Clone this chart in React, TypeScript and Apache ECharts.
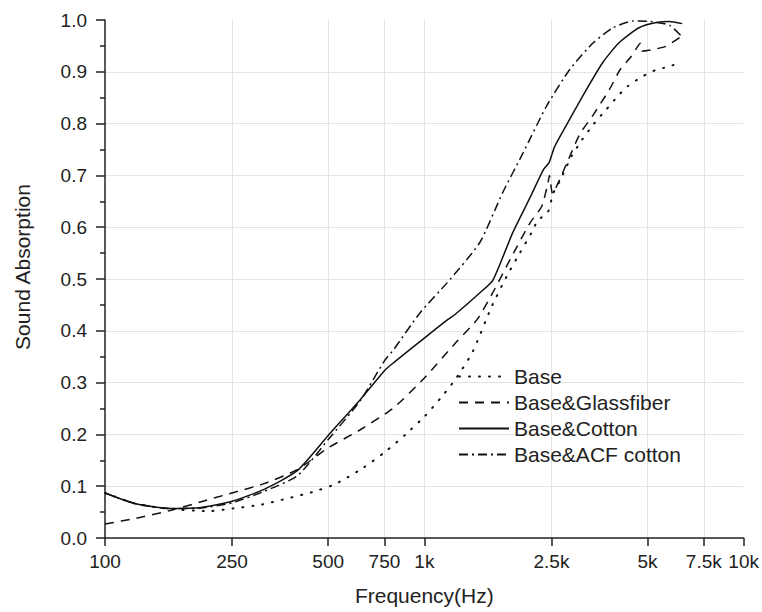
import React, { useEffect, useRef } from "react";
import * as echarts from "echarts";

// ---- data ----
const freqBase = [100, 125, 160, 213, 251, 306, 371, 448, 517, 556, 642, 753, 870, 1003, 1142, 1263, 1418, 1620, 1810, 1990, 2165, 2260, 2440, 2530, 2660, 2890, 3120, 3400, 3710, 4020, 4330, 4820, 5330, 5850, 6380];
const absBase = [0.087, 0.066, 0.056, 0.052, 0.057, 0.064, 0.076, 0.089, 0.102, 0.112, 0.135, 0.166, 0.199, 0.235, 0.275, 0.31, 0.36, 0.445, 0.505, 0.55, 0.589, 0.612, 0.63, 0.665, 0.69, 0.737, 0.769, 0.8, 0.827, 0.852, 0.872, 0.891, 0.904, 0.91, 0.92];

const freqGlass = [100, 125, 160, 200, 250, 315, 400, 500, 630, 800, 1000, 1250, 1460, 1636, 1876, 2146, 2331, 2440, 2465, 2520, 2645, 2800, 3070, 3380, 3800, 4100, 4450, 4750, 4800, 5190, 5700, 6380];
const absGlass = [0.027, 0.038, 0.053, 0.07, 0.087, 0.105, 0.132, 0.174, 0.209, 0.251, 0.309, 0.376, 0.421, 0.473, 0.543, 0.609, 0.64, 0.686, 0.7, 0.665, 0.69, 0.725, 0.78, 0.817, 0.866, 0.904, 0.93, 0.955, 0.94, 0.943, 0.949, 0.968];

const freqCotton = [100, 125, 160, 200, 250, 315, 400, 500, 630, 750, 800, 1000, 1180, 1250, 1490, 1640, 1890, 2150, 2360, 2460, 2560, 2850, 3220, 3620, 4070, 4700, 5330, 5850, 6420];
const absCotton = [0.087, 0.066, 0.057, 0.059, 0.071, 0.094, 0.13, 0.198, 0.267, 0.323, 0.338, 0.386, 0.421, 0.432, 0.473, 0.498, 0.589, 0.659, 0.711, 0.725, 0.756, 0.808, 0.866, 0.918, 0.956, 0.985, 0.995, 0.997, 0.993];

const freqACF = [100, 125, 160, 200, 250, 315, 400, 500, 630, 750, 800, 970, 1180, 1490, 1760, 2040, 2410, 2850, 3380, 3900, 4500, 5100, 5850, 6400];
const absACF = [0.087, 0.066, 0.057, 0.058, 0.068, 0.09, 0.12, 0.19, 0.265, 0.342, 0.363, 0.435, 0.493, 0.57, 0.667, 0.744, 0.833, 0.904, 0.956, 0.985, 0.998, 0.997, 0.99, 0.968];

const seriesNames = ["Base", "Base&Glassfiber", "Base&Cotton", "Base&ACF cotton"];
const xTickValues = [100, 250, 500, 750, 1000, 2500, 5000, 7500, 10000];

const FONT = 'Arial, "Liberation Sans", Helvetica, sans-serif';
const INK = "#111";

function pairs(xs: number[], ys: number[]) {
  return xs.map((x, i) => [x, ys[i]]);
}

export default function App() {
  const ref = useRef<HTMLDivElement>(null);
  useEffect(() => {
    if (!ref.current) return;
    const chart = echarts.init(ref.current, undefined, { renderer: "svg" });
    const lineBase = { color: INK, width: 1.5 };
    const mk = (name: string, data: number[][], type: any, extra: any = {}) => ({
      name,
      type: "line",
      data,
      symbol: "none",
      smooth: 0.2,
      itemStyle: { color: INK },
      lineStyle: { ...lineBase, type, ...extra },
    });
    chart.setOption({
      animation: false,
      backgroundColor: "#fff",
      textStyle: { fontFamily: FONT },
      grid: { left: 105, right: 18, top: 20, bottom: 74, containLabel: false },
      legend: {
        orient: "vertical",
        left: 458,
        top: 366,
        padding: 0,
        itemWidth: 50,
        itemHeight: 14,
        itemGap: 5,
        data: seriesNames,
        itemStyle: { opacity: 0 },
        textStyle: { fontSize: 21, color: "#222", fontFamily: FONT },
      },
      xAxis: {
        type: "log",
        logBase: 10,
        min: 100,
        max: 10000,
        name: "Frequency(Hz)",
        nameLocation: "middle",
        nameGap: 47,
        nameTextStyle: { fontSize: 21, color: "#222", fontFamily: FONT },
        axisLine: { show: true, onZero: false, lineStyle: { color: "#222", width: 1.5 } },
        axisTick: { show: true, inside: false, length: 8, customValues: xTickValues, lineStyle: { color: "#222", width: 1.5 } },
        axisLabel: {
          customValues: xTickValues,
          margin: 14,
          fontSize: 19,
          color: "#222",
          fontFamily: FONT,
          formatter: (v: number) => {
            const r = Math.round(v);
            return r >= 1000 ? `${r / 1000}k` : `${r}`;
          },
        },
        splitLine: { show: true, showMinLine: false, showMaxLine: false, lineStyle: { color: "#e4e4e4", width: 1 } },
        minorTick: { show: false },
      },
      yAxis: {
        type: "value",
        min: 0,
        max: 1,
        interval: 0.1,
        name: "Sound Absorption",
        nameLocation: "middle",
        nameGap: 72,
        nameTextStyle: { fontSize: 21, color: "#222", fontFamily: FONT, padding: [0, 0, 0, 24] },
        axisLine: { show: true, lineStyle: { color: "#222", width: 1.5 } },
        axisTick: { show: true, inside: false, length: 9, lineStyle: { color: "#222", width: 1.5 } },
        minorTick: { show: true, splitNumber: 2, length: 5, lineStyle: { color: "#222", width: 1.5 } },
        axisLabel: {
          margin: 18,
          fontSize: 19,
          color: "#222",
          fontFamily: FONT,
          formatter: (v: number) => v.toFixed(1),
        },
        splitLine: { show: true, showMinLine: false, showMaxLine: false, lineStyle: { color: "#e4e4e4", width: 1 } },
      },
      series: [
        mk(seriesNames[0], pairs(freqBase, absBase), [1, 9], { width: 2, cap: "round" }),
        mk(seriesNames[1], pairs(freqGlass, absGlass), [9, 7]),
        mk(seriesNames[2], pairs(freqCotton, absCotton), "solid"),
        mk(seriesNames[3], pairs(freqACF, absACF), [9, 4, 2, 4]),
      ],
    });
    return () => chart.dispose();
  }, []);
  return (
    <div
      ref={ref}
      style={{ position: "fixed", left: 0, top: 0, width: 762, height: 612, overflow: "hidden" }}
    />
  );
}
